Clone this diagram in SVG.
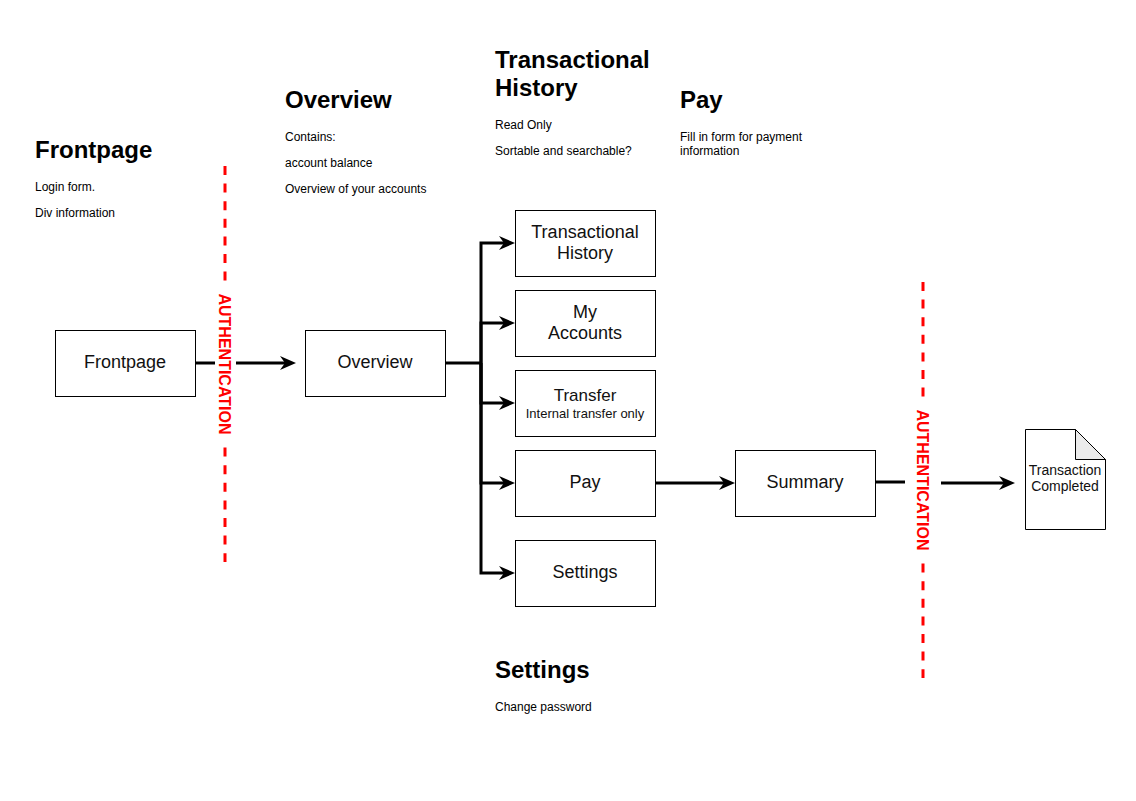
<svg xmlns="http://www.w3.org/2000/svg" width="1136" height="801" viewBox="0 0 1136 801">
<style>
.box{fill:#fff;stroke:#000;stroke-width:1}
.bt{font-family:"Liberation Sans",Arial,sans-serif;font-size:18px;fill:#111;text-anchor:middle}
.h{font-family:"Liberation Sans",Arial,sans-serif;font-size:24px;font-weight:bold;fill:#000}
.s{font-family:"Liberation Sans",Arial,sans-serif;font-size:12px;fill:#000}
.c{fill:none;stroke:#000;stroke-width:3}
.auth{fill:none;stroke:#ff0000;stroke-width:3;stroke-dasharray:9 8.6}
.at{font-family:"Liberation Sans",Arial,sans-serif;font-size:16px;font-weight:bold;fill:#ff0000;text-anchor:middle}
</style>
<defs>
<marker id="arr" viewBox="-16 -8 16 16" refX="-10" refY="0" markerWidth="16" markerHeight="16" markerUnits="userSpaceOnUse" orient="auto">
<path d="M0,0 L-16,-7 L-11,0 L-16,7 Z" fill="#000"/>
</marker>
</defs>
<rect width="1136" height="801" fill="#fff"/>

<g id="labels">
<text class="h" x="35" y="158">Frontpage</text>
<text class="s" x="35" y="191">Login form.</text>
<text class="s" x="35" y="217">Div information</text>
<text class="h" x="285" y="108">Overview</text>
<text class="s" x="285" y="141">Contains:</text>
<text class="s" x="285" y="167">account balance</text>
<text class="s" x="285" y="193">Overview of your accounts</text>
<text class="h" x="495" y="68">Transactional</text>
<text class="h" x="495" y="96">History</text>
<text class="s" x="495" y="129">Read Only</text>
<text class="s" x="495" y="155">Sortable and searchable?</text>
<text class="h" x="680" y="108">Pay</text>
<text class="s" x="680" y="141">Fill in form for payment</text>
<text class="s" x="680" y="155">information</text>
<text class="h" x="495" y="678">Settings</text>
<text class="s" x="495" y="711">Change password</text>
</g>

<g id="auth1">
<line class="auth" x1="225" y1="166" x2="225" y2="562"/>
<rect x="215" y="288" width="20" height="152" fill="#fff"/>
<text class="at" transform="translate(225,364) rotate(90)" dy="0.36em">AUTHENTICATION</text>
</g>
<g id="auth2">
<line class="auth" x1="923" y1="282" x2="923" y2="678"/>
<rect x="913" y="404" width="20" height="152" fill="#fff"/>
<text class="at" transform="translate(923,480) rotate(90)" dy="0.36em">AUTHENTICATION</text>
</g>

<g id="connectors">
<line class="c" x1="195" y1="363" x2="215" y2="363"/>
<line class="c" x1="236" y1="363" x2="286" y2="363" marker-end="url(#arr)"/>
<path class="c" d="M445,363 H481"/>
<path class="c" d="M481,363 V243 H505" marker-end="url(#arr)"/>
<path class="c" d="M481,363 V323 H505" marker-end="url(#arr)"/>
<path class="c" d="M481,363 V403 H505" marker-end="url(#arr)"/>
<path class="c" d="M481,363 V483 H505" marker-end="url(#arr)"/>
<path class="c" d="M481,363 V573 H505" marker-end="url(#arr)"/>
<line class="c" x1="655" y1="483" x2="725" y2="483" marker-end="url(#arr)"/>
<line class="c" x1="875" y1="482" x2="905" y2="482"/>
<line class="c" x1="941" y1="483" x2="1005" y2="483" marker-end="url(#arr)"/>
</g>

<g id="n-frontpage"><rect class="box" x="55.5" y="330.5" width="140" height="66"/><text class="bt" x="125" y="368">Frontpage</text></g>
<g id="n-overview"><rect class="box" x="305.5" y="330.5" width="140" height="66"/><text class="bt" x="375" y="368">Overview</text></g>
<g id="n-history"><rect class="box" x="515.5" y="210.5" width="140" height="66"/><text class="bt" x="585" y="238">Transactional</text><text class="bt" x="585" y="259">History</text></g>
<g id="n-accounts"><rect class="box" x="515.5" y="290.5" width="140" height="66"/><text class="bt" x="585" y="318">My</text><text class="bt" x="585" y="339">Accounts</text></g>
<g id="n-transfer"><rect class="box" x="515.5" y="370.5" width="140" height="66"/><text class="bt" x="585" y="401" style="font-size:17px">Transfer</text><text class="bt" x="585" y="418" style="font-size:13px">Internal transfer only</text></g>
<g id="n-pay"><rect class="box" x="515.5" y="450.5" width="140" height="66"/><text class="bt" x="585" y="488">Pay</text></g>
<g id="n-settings"><rect class="box" x="515.5" y="540.5" width="140" height="66"/><text class="bt" x="585" y="578">Settings</text></g>
<g id="n-summary"><rect class="box" x="735.5" y="450.5" width="140" height="66"/><text class="bt" x="805" y="488">Summary</text></g>
<g id="n-completed">
<path d="M1025.5,429.5 H1075.5 L1105.5,459.5 V529.5 H1025.5 Z" fill="#fff" stroke="#000"/>
<path d="M1075.5,429.5 V459.5 H1105.5 Z" fill="#ebebeb" stroke="#000"/>
<text class="bt" x="1065" y="475" style="font-size:14px">Transaction</text>
<text class="bt" x="1065" y="491" style="font-size:14px">Completed</text>
</g>
</svg>
